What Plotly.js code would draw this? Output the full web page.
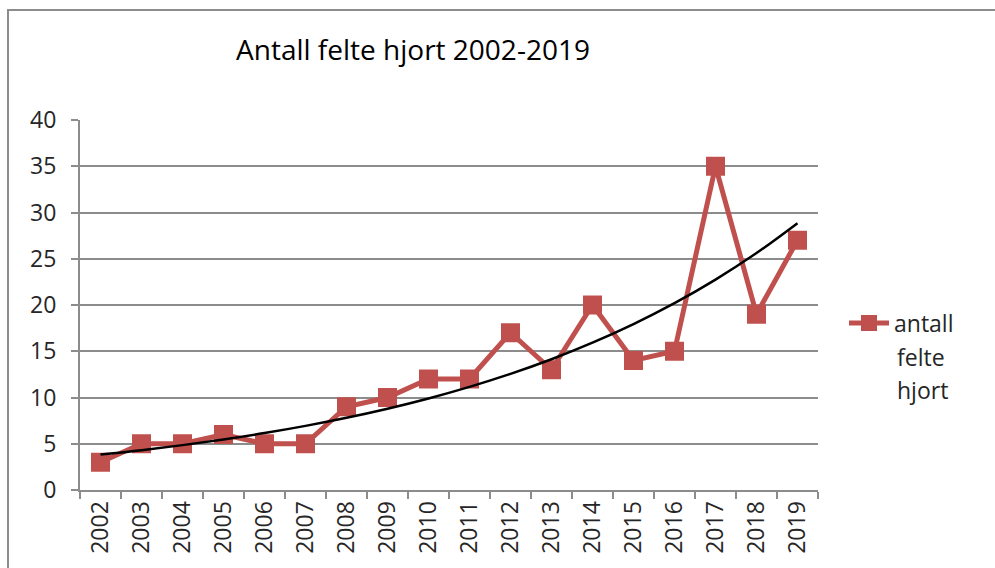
<!DOCTYPE html>
<html>
<head>
<meta charset="utf-8">
<script src="https://cdn.plot.ly/plotly-3.0.1.min.js"></script>
<style>html,body{margin:0;padding:0;background:#fff;}#chart{width:995px;height:568px;}</style>
</head>
<body>
<div id="chart"></div>
<script>
const years = ["2002","2003","2004","2005","2006","2007","2008","2009","2010","2011","2012","2013","2014","2015","2016","2017","2018","2019"];
const felte = [3,5,5,6,5,5,9,10,12,12,17,13,20,14,15,35,19,27];
const seriesName = "antall";
const legendExtra = ["felte","hjort"];
const titleText = "Antall felte hjort 2002-2019";
const yTicks = [0,5,10,15,20,25,30,35,40];

// Exponential trendline (least squares fit on ln(y)), as the spreadsheet does
const n = felte.length;
const xs = felte.map((_, i) => i + 1);
const ly = felte.map(v => Math.log(v));
const mx = xs.reduce((a, b) => a + b, 0) / n;
const my = ly.reduce((a, b) => a + b, 0) / n;
let sxy = 0, sxx = 0;
for (let i = 0; i < n; i++) { sxy += (xs[i] - mx) * (ly[i] - my); sxx += (xs[i] - mx) ** 2; }
const b = sxy / sxx, a = my - b * mx;
const trend = xs.map(x => Math.exp(a + b * x));

const FONT = "Open Sans, Liberation Sans, sans-serif";
const TXT = "#262626";
const GRID = "#8c8c8c";

const traces = [
  {
    x: years, y: felte, type: "scatter", mode: "lines+markers", name: seriesName,
    line: {color: "#C0504D", width: 5},
    marker: {symbol: "square", size: 19, color: "#C0504D"},
    showlegend: true
  },
  {
    x: years, y: trend, type: "scatter", mode: "lines", name: "trend",
    line: {color: "#000000", width: 2.5, shape: "spline"},
    showlegend: false, hoverinfo: "skip"
  }
];

const layout = {
  width: 995, height: 568,
  margin: {l: 80, r: 177, t: 120, b: 78},
  paper_bgcolor: "#fff", plot_bgcolor: "#fff",
  font: {family: FONT, color: TXT, size: 23},
  title: {text: titleText, font: {family: FONT, size: 28, color: "#000"}, x: 413/995, xanchor: "center", y: 1 - 50/568, yanchor: "middle"},
  xaxis: {
    type: "category", tickson: "boundaries", ticks: "outside", ticklen: 7, tickwidth: 2, tickcolor: GRID,
    showline: true, linecolor: GRID, linewidth: 2, showgrid: false, tickangle: -90,
    tickfont: {family: FONT, size: 23, color: TXT}, range: [-0.5, 17.5], zeroline: false
  },
  yaxis: {
    range: [0, 40], tickvals: yTicks, ticks: "outside", ticklen: 7, tickwidth: 2, tickcolor: GRID,
    showline: true, linecolor: GRID, linewidth: 2, showgrid: true, gridcolor: GRID, gridwidth: 2,
    zeroline: false, tickfont: {family: FONT, size: 23, color: TXT}, ticklabelstandoff: 10
  },
  showlegend: true,
  legend: {x: (844 - 80) / 738, xanchor: "left", y: (490 - 323) / 370, yanchor: "middle",
    font: {family: FONT, size: 23, color: TXT}, bgcolor: "rgba(0,0,0,0)", itemwidth: 40, tracegroupgap: 0},
  annotations: legendExtra.map((t, i) => ({
    text: t, xref: "paper", yref: "paper", x: (895 - 80) / 738, y: (490 - 357 - 33 * i) / 370,
    xanchor: "left", yanchor: "middle", showarrow: false, font: {family: FONT, size: 23, color: TXT}
  })),
  shapes: [{type: "rect", xref: "paper", yref: "paper", x0: (8 - 80) / 738, x1: 2, y0: -1, y1: (490 - 10) / 370,
    line: {color: "#8c8c8c", width: 2}, fillcolor: "rgba(0,0,0,0)", layer: "below"}]
};

Plotly.newPlot("chart", traces, layout, {displayModeBar: false, staticPlot: true});
</script>
</body>
</html>
